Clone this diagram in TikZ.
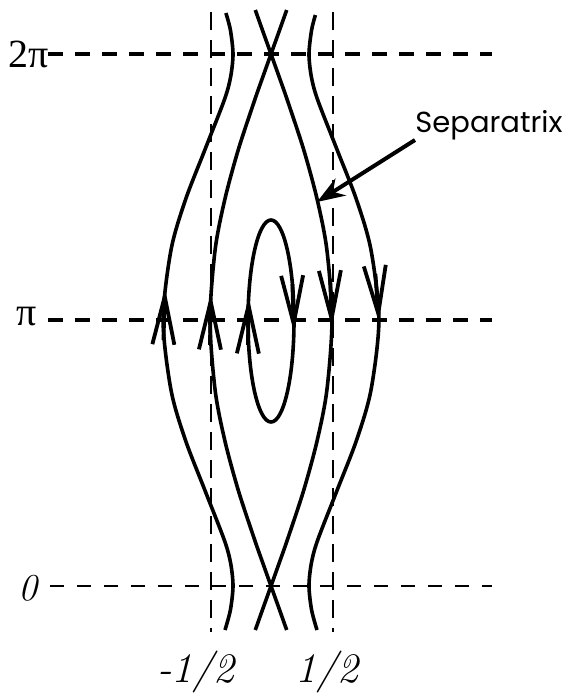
\documentclass[tikz,border=0pt]{standalone}
\usepackage{fontspec}
\newfontfamily\greekfont{Liberation Serif}
\newfontfamily\tagfont{Poppins}
\usetikzlibrary{arrows.meta}

\tikzset{
  orbit/.style={line width=1.8pt},
  flow/.style={line width=1.9pt, -{Straight Barb[length=24pt,width=11pt]}},
  level/.style={line width=2.4pt, dash pattern=on 7.5pt off 6pt},
  lowlevel/.style={line width=1.3pt, dash pattern=on 7pt off 6.5pt},
  bound/.style={line width=0.8pt, dash pattern=on 9pt off 5pt},
  pointer/.style={line width=2pt, -{Stealth[length=14pt,width=10pt]}},
}

\begin{document}
\begin{tikzpicture}[x=0.5pt, y=-0.5pt]
  \useasboundingbox (0,0) rectangle (570,693);

  % level lines and bounds
  \draw[level] (48,54) -- (492,54);
  \draw[level] (48,320) -- (492,320);
  \draw[lowlevel] (50,586) -- (492,586);
  \draw[bound] (211,12) -- (211,632);
  \draw[bound] (333,12) -- (333,632);

  % labels
  \node[font=\greekfont\fontsize{20}{22}\selectfont] (twopi) at (29,54) {2π};
  \node[font=\greekfont\fontsize{20}{22}\selectfont] (pi) at (27,317) {π};
  \node[font=\itshape\fontsize{19}{22}\selectfont] (zero) at (28,588) {0};
  \node[font=\itshape\fontsize{21}{24}\selectfont] (lhalf) at (196,672) {-1/2};
  \node[font=\itshape\fontsize{21}{24}\selectfont] (rhalf) at (327,672) {1/2};

  % open orbits
  \draw[orbit] plot[smooth] coordinates {(225.9,13) (230.4,30) (233,54) (230.6,77)
    (224.3,100) (204.8,150) (185.4,200) (171,250) (163.1,320) (171,390) (185.4,440)
    (204.8,490) (224.3,540) (230.6,563) (233,586) (230.4,610) (225,630)};
  \draw[orbit] plot[smooth] coordinates {(315.4,15) (311.6,30) (309,54) (311.4,77)
    (317.7,100) (337.2,150) (356.6,200) (371,250) (378.9,320) (371,390) (356.6,440)
    (337.2,490) (317.7,540) (311.4,563) (309,586) (311.6,610) (317,630)};

  % separatrix
  \draw[orbit] plot[smooth] coordinates {(286.7,10) (279.6,30) (271,54) (262.8,77)
    (254.7,100) (238.2,150) (224.7,200) (215.1,250) (210,320) (215.1,390) (224.7,440)
    (238.2,490) (254.7,540) (262.8,563) (271,586) (279.6,610) (286.7,630)};
  \draw[orbit] plot[smooth] coordinates {(255.3,10) (262.4,30) (271,54) (279.2,77)
    (287.3,100) (303.8,150) (317.3,200) (326.9,250) (332,320) (326.9,390) (317.3,440)
    (303.8,490) (287.3,540) (279.2,563) (271,586) (262.4,610) (255.3,630)};

  % closed orbit
  \draw[orbit] (271,321) ellipse [x radius=23, y radius=101];

  % flow direction at pi
  \draw[flow] (163.5,340) -- (165,288);
  \draw[flow] (210,345) -- (210.8,293);
  \draw[flow] (248,345) -- (248.7,297);
  \draw[flow] (292.4,284) -- (293.9,332);
  \draw[flow] (330.2,279) -- (331.9,327);
  \draw[flow] (375.4,274) -- (378.9,322);

  % separatrix tag
  \node[font=\tagfont\fontsize{14.5}{16}\selectfont, inner sep=0pt, anchor=south west] (sep) at (415,140) {Separatrix};
  \coordinate (septip) at (317,202);
  \draw[pointer] (sep.south west) -- (septip);
\end{tikzpicture}
\end{document}
